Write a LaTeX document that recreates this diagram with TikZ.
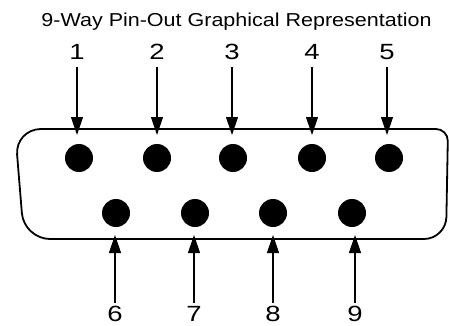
\documentclass[tikz,border=0pt]{standalone}
\usepackage{fontspec}
\setmainfont{Liberation Sans}
\newfontfamily\titlefont[FakeStretch=1.15]{Liberation Sans}
\newfontfamily\numfont[FakeStretch=1.25]{Liberation Sans}
\usepackage{tikz}
\usetikzlibrary{arrows.meta}

\begin{document}
\begin{tikzpicture}[x=1pt,y=-1pt,
  pin/.style={circle,fill=black,minimum size=28pt,inner sep=0pt},
  num/.style={font=\numfont\fontsize{22}{24}\selectfont,inner sep=0pt,outer sep=0pt,anchor=base},
  pinarrow/.style={line width=1.2pt,shorten <=7pt,-{Triangle[length=18pt,width=12pt]}}]
\def\shell{(230,129) [rounded corners=12pt] -- (448,129) [rounded corners=22pt] -- (446,239) [rounded corners=26pt] -- (24,239) -- (15,129) -- cycle}
\useasboundingbox (0,0) rectangle (449,326);
      \node[anchor=base,font=\titlefont\fontsize{18.7}{20}\selectfont] (title) at (236.5,26.5) {9-Way Pin-Out Graphical Representation};
      \draw[line width=1.8pt] \shell;
% pins
      \node[pin] (p1) at (79,158) {};
      \node[pin] (p2) at (157,158) {};
      \node[pin] (p3) at (233,158) {};
      \node[pin] (p4) at (312,158) {};
      \node[pin] (p5) at (389,158) {};
      \node[pin] (p6) at (116,213) {};
      \node[pin] (p7) at (195,213) {};
      \node[pin] (p8) at (273,213) {};
      \node[pin] (p9) at (352,213) {};
% labels
      \node[num] (n1) at (77,60) {1};
      \node[num] (n2) at (157,60) {2};
      \node[num] (n3) at (232,60) {3};
      \node[num] (n4) at (312,60) {4};
      \node[num] (n5) at (387,60) {5};
      \node[num] (n6) at (115,321) {6};
      \node[num] (n7) at (194,321) {7};
      \node[num] (n8) at (273,321) {8};
      \node[num] (n9) at (355,321) {9};
% arrow ends
      \coordinate (c1) at (77,135);
      \coordinate (c2) at (157,135);
      \coordinate (c3) at (232,135);
      \coordinate (c4) at (312,135);
      \coordinate (c5) at (387,135);
      \coordinate (c6) at (115,235);
      \coordinate (c7) at (194,235);
      \coordinate (c8) at (273,235);
      \coordinate (c9) at (355,235);
      \draw[pinarrow] (n1.south) -- (c1);
      \draw[pinarrow] (n2.south) -- (c2);
      \draw[pinarrow] (n3.south) -- (c3);
      \draw[pinarrow] (n4.south) -- (c4);
      \draw[pinarrow] (n5.south) -- (c5);
      \draw[pinarrow,shorten <=3pt] (n6.north) -- (c6);
      \draw[pinarrow,shorten <=3pt] (n7.north) -- (c7);
      \draw[pinarrow,shorten <=3pt] (n8.north) -- (c8);
      \draw[pinarrow,shorten <=3pt] (n9.north) -- (c9);
\end{tikzpicture}
\end{document}
